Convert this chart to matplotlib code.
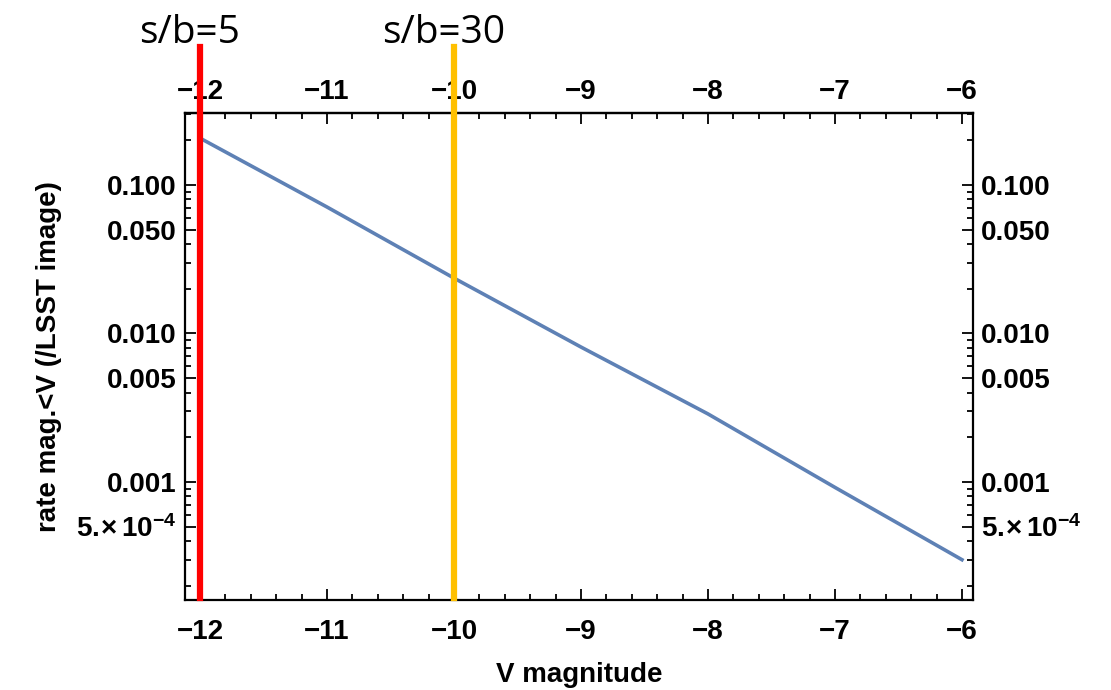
import matplotlib.pyplot as plt
import matplotlib.ticker as mticker

# data
v_mag = [-12, -11, -10, -9, -8, -7, -6]
rate = [0.207, 0.0711, 0.0236, 0.0081, 0.00287, 0.000918, 0.000299]

# s/b markers
sb_x = [-12, -10]
sb_labels = ["s/b=5", "s/b=30"]
sb_colors = ["#FF0000", "#FFC000"]

y_major = [5e-4, 1e-3, 5e-3, 1e-2, 5e-2, 1e-1]
y_major_labels = [r"$5.\!{\times}\,10^{-4}$", "0.001", "0.005", "0.010", "0.050", "0.100"]
y_minor = [2e-4, 3e-4, 4e-4, 6e-4, 7e-4, 8e-4, 9e-4,
           2e-3, 3e-3, 4e-3, 6e-3, 7e-3, 8e-3, 9e-3,
           2e-2, 3e-2, 4e-2, 6e-2, 7e-2, 8e-2, 9e-2,
           2e-1, 3e-1]

plt.rcParams['font.family'] = ['Liberation Sans', 'DejaVu Sans']
plt.rcParams['font.weight'] = 'bold'
plt.rcParams['mathtext.fontset'] = 'custom'
plt.rcParams['mathtext.rm'] = 'Liberation Sans:bold'
plt.rcParams['mathtext.bf'] = 'Liberation Sans:bold'
plt.rcParams['mathtext.default'] = 'rm'

fig = plt.figure(figsize=(11.11, 6.9), dpi=100)
ax = fig.add_axes([0.1665, 0.1304, 0.7093, 0.7058])

ax.plot(v_mag, rate, color="#5E81B5", lw=2.6, zorder=3)
ax.set_yscale("log")
ax.set_xlim(-12.118, -5.913)
ax.set_ylim(1.60e-4, 0.3055)

minus_fmt = mticker.FuncFormatter(lambda v, p: "\u2212%d" % abs(v))

ax.yaxis.set_major_locator(mticker.FixedLocator(y_major))
ax.yaxis.set_major_formatter(mticker.FixedFormatter(y_major_labels))
ax.yaxis.set_minor_locator(mticker.FixedLocator(y_minor))
ax.yaxis.set_minor_formatter(mticker.NullFormatter())
ax.xaxis.set_major_locator(mticker.MultipleLocator(1))
ax.xaxis.set_minor_locator(mticker.MultipleLocator(0.2))
ax.xaxis.set_major_formatter(minus_fmt)

ax.tick_params(which="both", direction="in", top=False, right=True,
               labelright=True, labelsize=20, width=1.3)
ax.tick_params(which="major", length=8, pad=6)
ax.tick_params(which="minor", length=4.5)
ax.tick_params(axis="x", which="major", pad=14)

# top axis with its own tick padding
top = ax.secondary_xaxis("top")
top.xaxis.set_major_locator(mticker.MultipleLocator(1))
top.xaxis.set_minor_locator(mticker.MultipleLocator(0.2))
top.xaxis.set_major_formatter(minus_fmt)
top.tick_params(which="both", direction="in", labelsize=20, width=1.3)
top.tick_params(which="major", length=8, pad=6)
top.tick_params(which="minor", length=4.5)
top.spines["top"].set_linewidth(1.6)

for s in ax.spines.values():
    s.set_linewidth(1.6)

ax.set_xlabel("V magnitude", fontsize=20, fontweight="bold", labelpad=12)
ax.set_ylabel("rate mag.<V (/LSST image)", fontsize=20, fontweight="bold", labelpad=10)

for x, lab, c in zip(sb_x, sb_labels, sb_colors):
    ax.axvline(x, ymin=0.004, ymax=1.136, color=c, lw=4.5, clip_on=False, zorder=4)
    ax.text(x - 0.08, 1.125, lab, transform=ax.get_xaxis_transform(),
            ha="center", va="bottom", fontsize=28, fontweight="normal",
            family=["Open Sans", "DejaVu Sans"])

fig.savefig("out.png", dpi=100)
